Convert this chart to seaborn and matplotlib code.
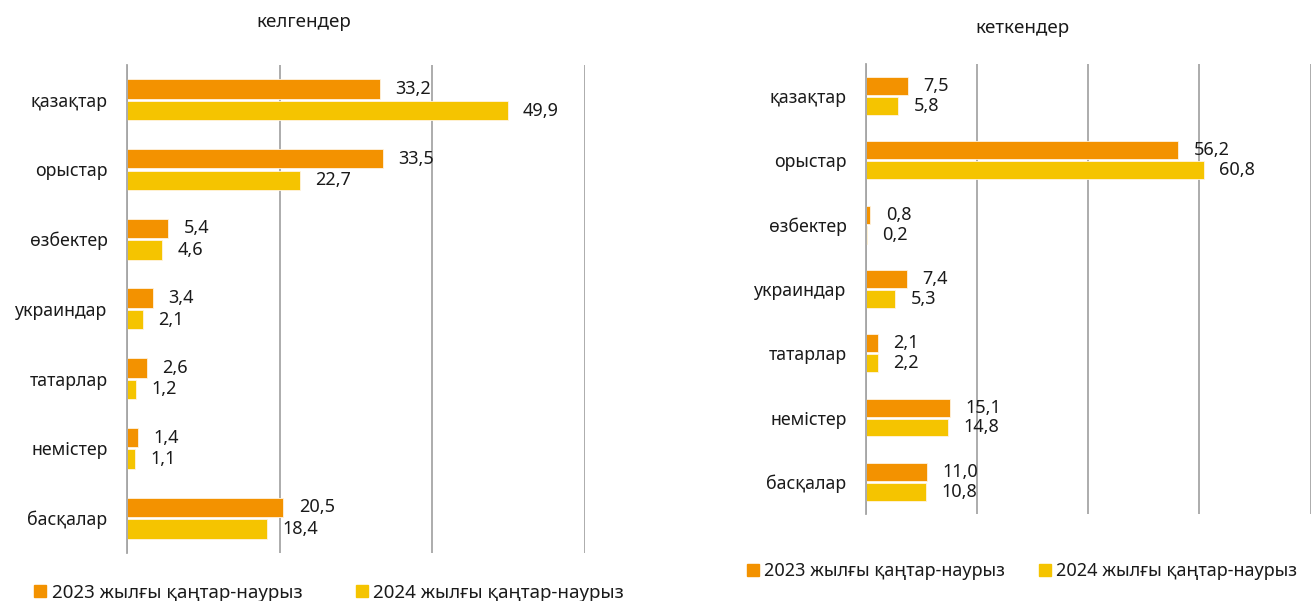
import numpy as np
import pandas as pd
import matplotlib
matplotlib.use("Agg")
import matplotlib.pyplot as plt
import seaborn as sns
from matplotlib.lines import Line2D

# -----------------------------------
# Data
# -----------------------------------
years = ["2023 жылғы қаңтар-наурыз", "2024 жылғы қаңтар-наурыз"]

arrived_groups = ["қазақтар", "орыстар", "өзбектер", "украиндар",
                  "татарлар", "немістер", "басқалар"]
arrived_2023 = [33.2, 33.5, 5.4, 3.4, 2.6, 1.4, 20.5]
arrived_2024 = [49.9, 22.7, 4.6, 2.1, 1.2, 1.1, 18.4]

left_groups = ["қазақтар", "орыстар", "өзбектер", "украиндар",
               "татарлар", "немістер", "басқалар"]
left_2023 = [7.5, 56.2, 0.8, 7.4, 2.1, 15.1, 11.0]
left_2024 = [5.8, 60.8, 0.2, 5.3, 2.2, 14.8, 10.8]

colors = ["#F39200", "#F5C400"]
grid_color = "#A6A6A6"

sns.set_theme(style="white")
plt.rcParams["font.family"] = ["Noto Sans", "DejaVu Sans"]


def make_frame(groups, v23, v24):
    return pd.DataFrame({
        "group": groups * 2,
        "year": [years[0]] * len(groups) + [years[1]] * len(groups),
        "value": v23 + v24,
    })


def draw_panel(ax, df, xmax):
    sns.barplot(data=df, y="group", x="value", hue="year",
                palette=colors, saturation=1, width=0.62, gap=0.1,
                edgecolor="#FFF3E0", linewidth=0.6,
                legend=False, ax=ax)
    ax.set_xlim(0, xmax)
    ax.set_xticks(np.arange(0, xmax + 1, 20))
    ax.set_xticklabels([])
    ax.grid(axis="x", color=grid_color, linewidth=1.3)
    ax.set_axisbelow(True)
    for s in ["top", "right", "bottom"]:
        ax.spines[s].set_visible(False)
    ax.spines["left"].set_color(grid_color)
    ax.spines["left"].set_linewidth(1.3)
    ax.set_xlabel("")
    ax.set_ylabel("")
    ax.tick_params(axis="y", length=0, pad=14, labelsize=12.8,
                   labelcolor="#1a1a1a")
    ax.tick_params(axis="x", length=0)
    for cont in ax.containers:
        labels = [f"{v:.1f}".replace(".", ",") for v in cont.datavalues]
        ax.bar_label(cont, labels=labels, padding=11, fontsize=13,
                     color="#1a1a1a")


fig = plt.figure(figsize=(13.12, 6.01), dpi=100)

ax1 = fig.add_axes([0.0968, 0.080, 0.349, 0.812])
draw_panel(ax1, make_frame(arrived_groups, arrived_2023, arrived_2024), 60)

ax2 = fig.add_axes([0.660, 0.1448, 0.339, 0.749])
draw_panel(ax2, make_frame(left_groups, left_2023, left_2024), 80)

fig.text(304 / 1312, 1 - 22 / 601, "келгендер", ha="center", va="center",
         fontsize=13.5, color="#1a1a1a")
fig.text(1022 / 1312, 1 - 28 / 601, "кеткендер", ha="center", va="center",
         fontsize=13.5, color="#1a1a1a")

handles = [Line2D([], [], marker="s", linestyle="", markersize=9,
                  markerfacecolor=c, markeredgecolor=c) for c in colors]

fig.legend(handles, years, loc="center left", ncol=2, frameon=False,
           bbox_to_anchor=(14 / 1312, 1 - 593 / 601), fontsize=13.5,
           handletextpad=0.1, columnspacing=2.7, handlelength=1.0,
           labelcolor="#1a1a1a")
fig.legend(handles, years, loc="center left", ncol=2, frameon=False,
           bbox_to_anchor=(728 / 1312, 1 - 571 / 601), fontsize=13,
           handletextpad=0.1, columnspacing=1.7, handlelength=1.0,
           labelcolor="#1a1a1a")

fig.savefig("out.png", dpi=100)
